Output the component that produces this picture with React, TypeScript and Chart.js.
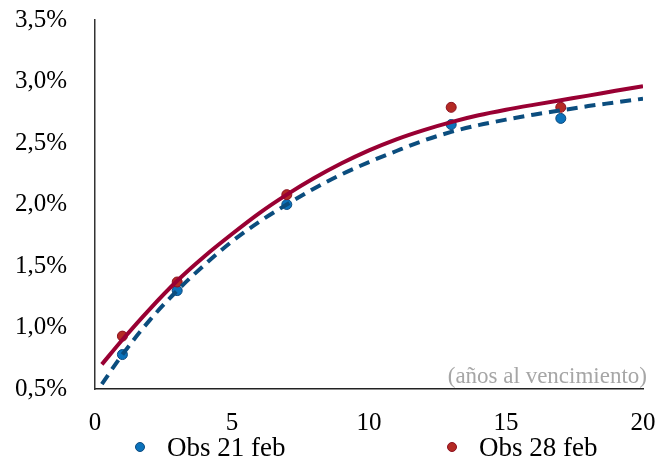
import React, { useEffect, useRef } from "react";
import { Chart, registerables } from "chart.js";

Chart.register(...registerables);

// Observed yields (maturity in years, yield in %)
const obsMaturities = [1, 3, 7, 13, 17];
const obs21feb = [0.78, 1.30, 2.00, 2.65, 2.70];
const obs28feb = [0.93, 1.37, 2.08, 2.79, 2.79];

// Fitted curves
const curveX = [0.25, 1, 2, 3, 4, 5, 6, 7, 8, 9, 10, 11, 12, 13, 14, 15, 16, 17, 18, 19, 20];
const curve21 = [0.54, 0.78, 1.06, 1.30, 1.51, 1.70, 1.86, 2.00, 2.13, 2.245, 2.345, 2.435, 2.52, 2.59, 2.645, 2.69, 2.73, 2.765, 2.80, 2.83, 2.86];
const curve28 = [0.70, 0.90, 1.15, 1.38, 1.58, 1.76, 1.93, 2.08, 2.215, 2.335, 2.44, 2.53, 2.605, 2.67, 2.725, 2.77, 2.81, 2.848, 2.885, 2.925, 2.962];

const legendLabels = ["Obs 21 feb", "Obs 28 feb"];
const axisNote = "(años al vencimiento)";

const FONT = "'Liberation Serif', 'Times New Roman', serif";
const BLUE_FILL = "#0b72bb";
const BLUE_BORDER = "#0d4a7e";
const RED_FILL = "#b42a24";
const RED_BORDER = "#8c1020";
const RED_LINE = "#990033";
const BLUE_LINE = "#0b4d7e";

const notePlugin = {
  id: "axisNote",
  afterDraw(chart: any) {
    const { ctx, chartArea } = chart;
    ctx.save();
    ctx.font = `23px ${FONT}`;
    ctx.fillStyle = "#a6a6a6";
    ctx.textAlign = "right";
    ctx.textBaseline = "middle";
    ctx.fillText(axisNote, chartArea.right + 4, chartArea.bottom - 12);
    ctx.restore();
  },
};

export default function App() {
  const ref = useRef<HTMLCanvasElement | null>(null);

  useEffect(() => {
    if (!ref.current) return;
    const chart = new Chart(ref.current, {
      type: "scatter",
      data: {
        datasets: [
          {
            label: "Curva 28 feb",
            data: curveX.map((x, i) => ({ x, y: curve28[i] })),
            showLine: true,
            borderColor: RED_LINE,
            borderWidth: 4,
            pointRadius: 0,
            cubicInterpolationMode: "monotone",
            order: 1,
          },
          {
            label: "Curva 21 feb",
            data: curveX.map((x, i) => ({ x, y: curve21[i] })),
            showLine: true,
            borderColor: BLUE_LINE,
            borderWidth: 4,
            borderDash: [11, 7],
            pointRadius: 0,
            cubicInterpolationMode: "monotone",
            order: 0,
          },
          {
            label: legendLabels[0],
            data: obsMaturities.map((x, i) => ({ x, y: obs21feb[i] })),
            backgroundColor: BLUE_FILL,
            borderColor: BLUE_BORDER,
            borderWidth: 1,
            pointRadius: 5,
            order: 3,
          },
          {
            label: legendLabels[1],
            data: obsMaturities.map((x, i) => ({ x, y: obs28feb[i] })),
            backgroundColor: RED_FILL,
            borderColor: RED_BORDER,
            borderWidth: 1,
            pointRadius: 5,
            order: 2,
          },
        ],
      },
      options: {
        animation: false,
        responsive: false,
        maintainAspectRatio: false,
        layout: { padding: { top: 20, right: 20, bottom: 0, left: 0 } },
        plugins: {
          legend: { display: false },
          tooltip: { enabled: false },
          title: { display: false },
        },
        scales: {
          x: {
            type: "linear",
            min: 0,
            max: 20,
            afterFit: (s: any) => {
              s.height = 72;
              s.paddingLeft = 0;
              s.paddingRight = 0;
            },
            grid: { display: false, drawTicks: false },
            border: { display: true, color: "#222", width: 1.5 },
            ticks: {
              stepSize: 5,
              padding: 19,
              color: "#000",
              font: { family: FONT, size: 25 },
            },
          },
          y: {
            type: "linear",
            min: 0.5,
            max: 3.5,
            afterFit: (s: any) => {
              s.width = 95;
              s.paddingTop = 0;
              s.paddingBottom = 0;
            },
            grid: { display: false, drawTicks: false },
            border: { display: true, color: "#333", width: 1.5 },
            ticks: {
              stepSize: 0.5,
              padding: 28,
              color: "#000",
              font: { family: FONT, size: 25 },
              callback: (v: any) => Number(v).toFixed(1).replace(".", ",") + "%",
            },
          },
        },
      },
      plugins: [notePlugin],
    });
    return () => chart.destroy();
  }, []);

  const legendItem = (left: number, color: string, border: string, text: string) => (
    <div
      style={{
        position: "absolute",
        left,
        top: 432,
        height: 30,
        display: "flex",
        alignItems: "center",
        fontFamily: FONT,
        fontSize: 27,
        color: "#000",
        whiteSpace: "nowrap",
      }}
    >
      <span
        style={{
          display: "inline-block",
          width: 8,
          height: 8,
          borderRadius: "50%",
          background: color,
          border: `1px solid ${border}`,
          marginRight: 22,
        }}
      />
      <span>{text}</span>
    </div>
  );

  return (
    <div style={{ position: "fixed", left: 0, top: 0, width: 663, height: 461, background: "#fff" }}>
      <canvas ref={ref} width={663} height={461} style={{ display: "block" }} />
      {legendItem(135, BLUE_FILL, BLUE_BORDER, legendLabels[0])}
      {legendItem(447, RED_FILL, RED_BORDER, legendLabels[1])}
    </div>
  );
}
